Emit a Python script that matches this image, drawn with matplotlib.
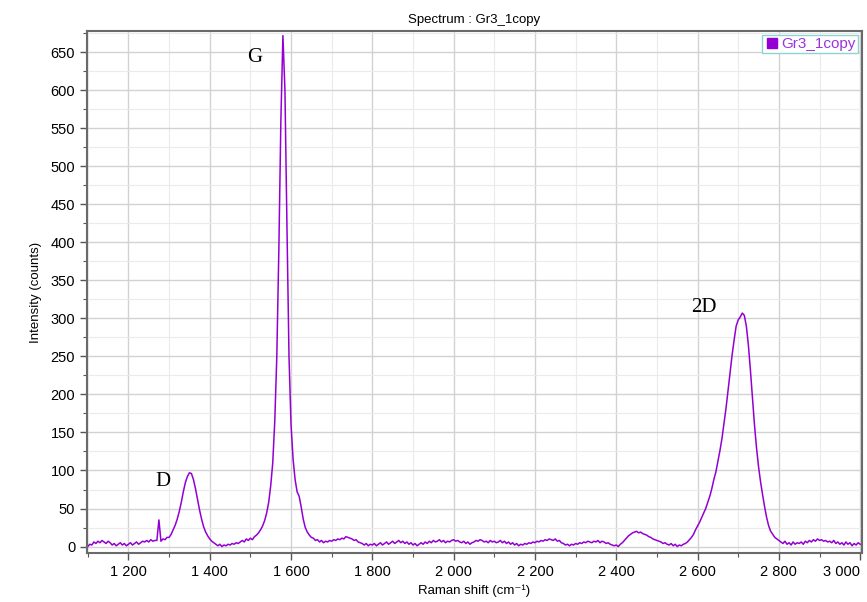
"""
Raman spectrum of Gr3_1copy with D, G and 2D bands.
"""

import numpy as np
import matplotlib.pyplot as plt
from matplotlib.ticker import MultipleLocator, FuncFormatter
from matplotlib.lines import Line2D

# sampled every 5 cm-1 from 1100 to 3000
shift = np.arange(1100, 3001, 5)
intensity = [
    0, 3, 2, 6, 4, 7, 5, 8, 6, 4, 7, 5, 2, 4, 1, 3, 5, 2, 4, 1,             # 1100
    3, 5, 2, 4, 6, 3, 5, 7, 6, 8, 6, 9, 7, 8, 8, 35, 7, 10, 9, 12,          # 1200
    12, 16, 22, 28, 36, 46, 58, 72, 84, 92, 97, 96, 88, 76, 62, 48, 36, 26, 19, 14,  # 1300
    10, 7, 5, 3, 1, 3, 0, 2, 1, 3, 2, 4, 3, 5, 4, 6, 8, 6, 10, 8,           # 1400
    11, 9, 13, 15, 18, 22, 27, 34, 44, 58, 80, 110, 165, 250, 390, 560, 672, 600, 420, 250,  # 1500
    160, 115, 88, 72, 66, 52, 36, 25, 19, 15, 12, 11, 8, 9, 6, 8, 5, 7, 6, 8,  # 1600
    7, 9, 8, 10, 9, 11, 10, 13, 12, 11, 10, 8, 9, 6, 5, 4, 2, 4, 1, 3,      # 1700
    2, 4, 1, 3, 5, 2, 4, 6, 3, 5, 7, 4, 6, 8, 5, 7, 4, 6, 3, 5,             # 1800
    2, 4, 1, 3, 5, 3, 6, 4, 7, 5, 8, 6, 7, 9, 6, 8, 5, 7, 6, 8,             # 1900
    9, 7, 8, 6, 5, 7, 4, 6, 3, 5, 6, 8, 7, 9, 8, 6, 7, 5, 8, 6,             # 2000
    7, 5, 6, 8, 5, 7, 4, 6, 3, 5, 2, 4, 1, 3, 2, 4, 3, 5, 4, 6,             # 2100
    5, 7, 6, 8, 7, 9, 8, 10, 9, 8, 10, 7, 8, 5, 4, 2, 3, 1, 3, 2,           # 2200
    4, 3, 5, 4, 6, 5, 7, 6, 5, 7, 6, 8, 5, 7, 6, 4, 5, 3, 2, 1,             # 2300
    2, 0, 3, 5, 8, 11, 14, 16, 18, 19, 20, 18, 19, 17, 16, 15, 13, 12, 10, 9,  # 2400
    8, 7, 6, 4, 5, 3, 2, 4, 1, 3, 0, 2, 1, 3, 4, 6, 9, 12, 16, 22,          # 2500
    27, 32, 38, 44, 50, 58, 66, 76, 88, 98, 112, 126, 142, 162, 182, 205, 228, 252, 272, 290,  # 2600
    298, 302, 307, 304, 290, 265, 232, 195, 160, 130, 105, 85, 68, 52, 38, 27, 20, 16, 12, 10,  # 2700
    8, 6, 4, 7, 3, 5, 2, 6, 3, 5, 4, 6, 3, 7, 5, 8, 6, 9, 7, 10,            # 2800
    8, 9, 7, 8, 6, 7, 5, 8, 4, 6, 3, 5, 2, 6, 3, 5, 1, 4, 2, 5,             # 2900
    3,                                                                       # 3000
]

band_names = ['D', 'G', '2D']
band_x = [1284, 1510, 2615]
band_y = [86, 643, 315]

series_name = 'Gr3_1copy'
purple = '#9400d3'


def main():
    plt.rcParams['font.family'] = ['Liberation Sans', 'DejaVu Sans']

    fig = plt.figure(figsize=(8.67, 6.02), dpi=100)
    ax = fig.add_axes([0.1003, 0.0814, 0.8937, 0.8671])

    ax.plot(shift, intensity, color=purple, lw=1.1)

    ax.set_xlim(1098, 3004)
    ax.set_ylim(-8.5, 678)

    ax.xaxis.set_major_locator(MultipleLocator(200))
    ax.xaxis.set_minor_locator(MultipleLocator(100))
    ax.yaxis.set_major_locator(MultipleLocator(50))
    ax.yaxis.set_minor_locator(MultipleLocator(25))
    ax.xaxis.set_major_formatter(FuncFormatter(lambda v, p: f'{int(v):,}'.replace(',', ' ')))

    ax.grid(which='major', color='#d2d2d2', lw=1.0)
    ax.grid(which='minor', color='#ebebeb', lw=0.8)
    ax.set_axisbelow(True)

    ax.tick_params(which='major', length=5, width=1, color='#555555', labelsize=10.5)
    ax.tick_params(which='minor', length=3, width=0.8, color='#555555')
    for s in ax.spines.values():
        s.set_color('#6a6a6a')
        s.set_linewidth(1.5)

    ax.set_xlabel('Raman shift (cm⁻¹)', fontsize=9.5, labelpad=4)
    ax.set_ylabel('Intensity (counts)', fontsize=9.5, labelpad=6)
    ax.set_title('Spectrum : Gr3_1copy', fontsize=9.5, pad=6)

    for name, bx, by in zip(band_names, band_x, band_y):
        ax.text(bx, by, name, family='Liberation Serif', fontsize=15,
                ha='center', va='center')

    handle = Line2D([], [], color=purple, marker='s', ls='none', markersize=7)
    leg = ax.legend([handle], [series_name], loc='upper right', fontsize=11,
                    frameon=True, fancybox=False, handletextpad=0.1,
                    handlelength=1.0, borderpad=0.15, borderaxespad=0.25,
                    framealpha=1)
    leg.get_frame().set_edgecolor('#8fd4d4')
    leg.get_frame().set_linewidth(1.0)
    for t in leg.get_texts():
        t.set_color('#9a33e0')

    # last x label sits inside the figure, right-aligned on its tick
    fig.canvas.draw()
    for tick in ax.xaxis.get_major_ticks():
        if abs(tick.get_loc() - 3000) < 1:
            tick.label1.set_horizontalalignment('right')
            tick.label1.set_x(3004)

    fig.savefig('out.png', dpi=100)


if __name__ == '__main__':
    main()
